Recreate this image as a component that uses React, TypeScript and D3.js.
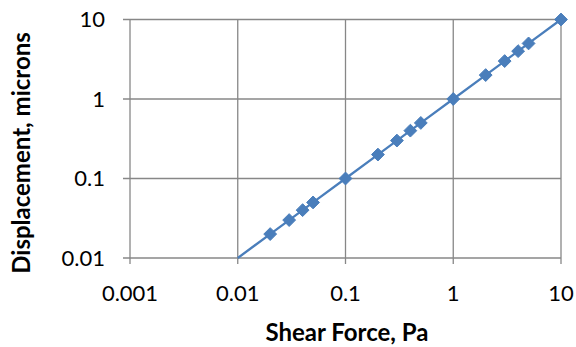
import React from 'react';
import * as d3 from 'd3';

const shearForce = [0.01, 0.02, 0.03, 0.04, 0.05, 0.1, 0.2, 0.3, 0.4, 0.5, 1, 2, 3, 4, 5, 10];
const displacement = [0.01, 0.02, 0.03, 0.04, 0.05, 0.1, 0.2, 0.3, 0.4, 0.5, 1, 2, 3, 4, 5, 10];
const markerFrom = 1; // first point has no marker
const xTicks = [0.001, 0.01, 0.1, 1, 10];
const yTicks = [0.01, 0.1, 1, 10];
const xTickLabels = ['0.001', '0.01', '0.1', '1', '10'];
const yTickLabels = ['0.01', '0.1', '1', '10'];

const W = 576;
const H = 347;
const margin = { top: 19.5, right: 15, bottom: 89, left: 130 };
const blue = '#4A7EBB';
const grid = '#878787';
const font = 'Lato, Calibri, sans-serif';

export default function App() {
  const x = d3.scaleLog().domain([0.001, 10]).range([margin.left, W - margin.right]);
  const y = d3.scaleLog().domain([0.01, 10]).range([H - margin.bottom, margin.top]);
  const pts = shearForce.map((v, i) => [x(v), y(displacement[i])] as [number, number]);
  const line = d3.line()(pts) || '';
  const diamond = d3.symbol().type(d3.symbolDiamond2).size(105)() || '';
  const x0 = x.range()[0], x1 = x.range()[1];
  const yb = y.range()[0], yt = y.range()[1];

  return (
    <svg width={W} height={H} style={{ position: 'absolute', left: 0, top: 0, background: '#fff' }}>
      {/* gridlines */}
      {xTicks.map(t => (
        <line key={'gx' + t} x1={x(t)} x2={x(t)} y1={yt} y2={yb + 6} stroke={grid} strokeWidth={1.3} />
      ))}
      {yTicks.map(t => (
        <line key={'gy' + t} x1={x0 - 7} x2={x1} y1={y(t)} y2={y(t)} stroke={grid} strokeWidth={1.3} />
      ))}
      {/* tick labels */}
      {xTicks.map((t, i) => (
        <text key={'tx' + t} x={x(t)} y={301} textAnchor="middle" fontFamily={font} fontSize={22} fill="#000">
          {xTickLabels[i]}
        </text>
      ))}
      {yTicks.map((t, i) => (
        <text key={'ty' + t} x={105} y={y(t)} dy="0.36em" textAnchor="end" fontFamily={font} fontSize={22} fill="#000">
          {yTickLabels[i]}
        </text>
      ))}
      {/* series */}
      <path d={line} fill="none" stroke={blue} strokeWidth={2.3} />
      {pts.slice(markerFrom).map((p, i) => (
        <path key={'m' + i} d={diamond} transform={`translate(${p[0]},${p[1]})`} fill={blue} stroke={blue} strokeWidth={1} strokeLinejoin="round" />
      ))}
      {/* axis titles */}
      <text x={347} y={341} textAnchor="middle" fontFamily={font} fontWeight="bold" fontSize={24} fill="#000">
        Shear Force, Pa
      </text>
      <text transform="translate(30,153) rotate(-90)" textAnchor="middle" fontFamily={font} fontWeight="bold" fontSize={24} fill="#000">
        Displacement, microns
      </text>
    </svg>
  );
}
